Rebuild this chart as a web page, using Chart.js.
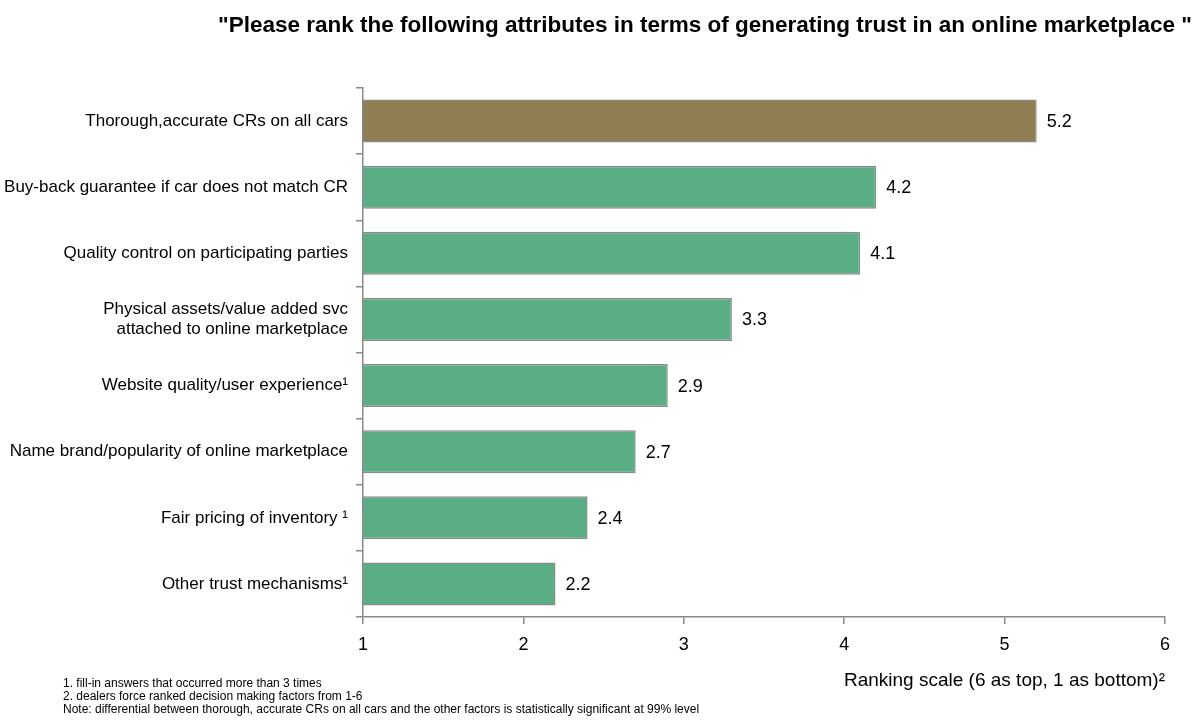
<!DOCTYPE html>
<html lang="en">
<head>
    <meta charset="UTF-8">
    <meta name="viewport" content="width=device-width, initial-scale=1.0">
    <title>Online marketplace trust ranking</title>
    <style>
        html, body { margin: 0; padding: 0; background: #fff; }
        #canvas { width: 1195px; height: 727px; }
    </style>
</head>
<body>

<div id="canvas">
    <canvas id="myChart" width="1195" height="727"></canvas>
</div>

<script src="https://cdn.jsdelivr.net/npm/chart.js@4/dist/chart.umd.min.js"></script>
<script>
    // survey data
    const attributes = [
        'Thorough,accurate CRs on all cars',
        'Buy-back guarantee if car does not match CR',
        'Quality control on participating parties',
        ['Physical assets/value added svc', 'attached to online marketplace'],
        'Website quality/user experience¹',
        'Name brand/popularity of online marketplace',
        'Fair pricing of inventory ¹',
        'Other trust mechanisms¹'
    ]
    const avgRank = [5.2, 4.2, 4.1, 3.3, 2.9, 2.7, 2.4, 2.2]
    const scaleTicks = [1, 2, 3, 4, 5, 6]

    const chartTitle = '"Please rank the following attributes in terms of generating trust in an online marketplace "'
    const axisTitle = 'Ranking scale (6 as top, 1 as bottom)²'
    const footnotes = [
        '1. fill-in answers that occurred more than 3 times',
        '2. dealers force ranked decision making factors from 1-6',
        'Note: differential between thorough, accurate CRs on all cars and the other factors is statistically significant at 99% level'
    ]

    const FONT = '"Liberation Sans", Arial, sans-serif'
    const GOLD = '#8f7f52'
    const GREEN = '#5bad84'
    const AXIS_GREY = '#8a8a8a'

    Chart.defaults.font.family = FONT
    Chart.defaults.color = '#000'

    // value labels, title and footnotes drawn straight on the canvas
    const extraText = {
        id: 'extraText',
        afterDatasetsDraw(chart) {
            const ctx = chart.ctx
            const meta = chart.getDatasetMeta(0)
            ctx.save()
            ctx.font = '18px ' + FONT
            ctx.fillStyle = '#000'
            ctx.textBaseline = 'middle'
            ctx.textAlign = 'left'
            meta.data.forEach((bar, i) => {
                ctx.fillText(avgRank[i].toFixed(1), bar.x + 10, bar.y + 1)
            })
            ctx.restore()
        },
        afterDraw(chart) {
            const ctx = chart.ctx
            ctx.save()
            ctx.fillStyle = '#000'
            ctx.textBaseline = 'alphabetic'

            ctx.font = 'bold 22.5px ' + FONT
            ctx.textAlign = 'center'
            ctx.fillText(chartTitle, 705, 32)

            ctx.font = '12px ' + FONT
            ctx.textAlign = 'left'
            footnotes.forEach((line, i) => {
                ctx.fillText(line, 63, 687 + i * 13)
            })
            ctx.restore()
        }
    }

    const ctx = document.getElementById('myChart').getContext('2d')

    const myChart = new Chart(ctx, {
        type: 'bar',
        data: {
            labels: attributes,
            datasets: [{
                data: avgRank,
                backgroundColor: avgRank.map((v, i) => i === 0 ? GOLD : GREEN),
                borderColor: AXIS_GREY,
                borderWidth: 1.5,
                borderSkipped: false,
                categoryPercentage: 0.65,
                barPercentage: 1
            }]
        },
        options: {
            indexAxis: 'y',
            responsive: false,
            animation: false,
            devicePixelRatio: 1,
            layout: {
                padding: { top: 88, right: 30, bottom: 0, left: 0 }
            },
            plugins: {
                legend: { display: false },
                tooltip: { enabled: false }
            },
            scales: {
                x: {
                    min: scaleTicks[0],
                    max: scaleTicks[scaleTicks.length - 1],
                    afterBuildTicks: scale => {
                        scale.ticks = scaleTicks.map(v => ({ value: v }))
                    },
                    afterFit: scale => { scale.height = 110 },
                    grid: {
                        drawOnChartArea: false,
                        color: AXIS_GREY,
                        tickLength: 7,
                        lineWidth: 1.5
                    },
                    border: { color: AXIS_GREY, width: 1.5 },
                    ticks: {
                        font: { size: 18 },
                        padding: 10,
                        color: '#000'
                    },
                    title: {
                        display: true,
                        text: axisTitle,
                        align: 'end',
                        font: { size: 19 },
                        color: '#000',
                        padding: { top: 0, bottom: 35 }
                    }
                },
                y: {
                    afterFit: scale => { scale.width = 363 },
                    grid: {
                        offset: true,
                        drawOnChartArea: false,
                        color: AXIS_GREY,
                        tickLength: 7,
                        lineWidth: 1.5
                    },
                    border: { color: AXIS_GREY, width: 1.5 },
                    ticks: {
                        font: { size: 17 },
                        padding: 8,
                        color: '#000'
                    }
                }
            }
        },
        plugins: [extraText]
    })
</script>
</body>
</html>
